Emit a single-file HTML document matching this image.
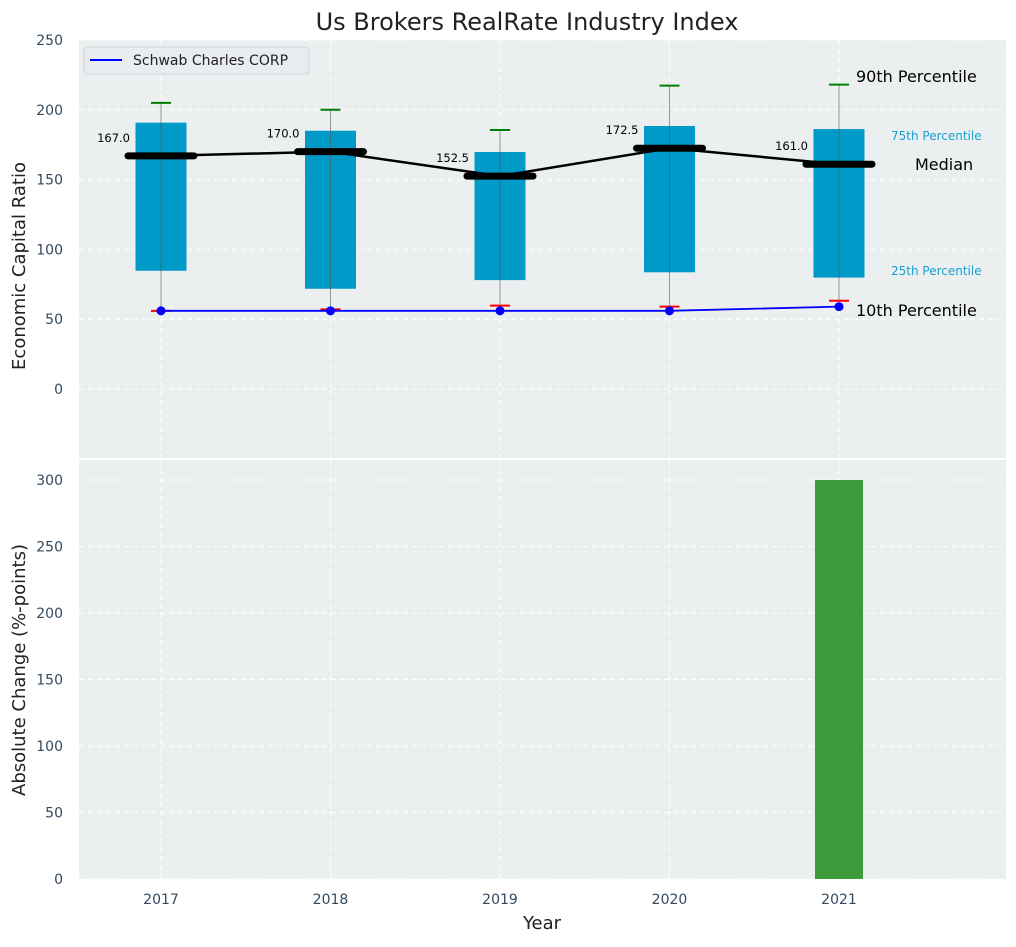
<!DOCTYPE html>
<html><head><meta charset="utf-8"><style>
body{margin:0;background:#fff;font-family:"Liberation Sans","DejaVu Sans",sans-serif}
svg text{font-family:"DejaVu Sans","Liberation Sans",sans-serif}
</style></head><body>
<svg id="c" width="1016" height="942" xmlns="http://www.w3.org/2000/svg"></svg>
<script>
const years=[2017,2018,2019,2020,2021];
const q25=[84.7,71.8,78,83.6,79.8];
const q75=[190.8,185,169.8,188.4,186.2];
const p10=[56,57,59.7,59,63.2];
const p90=[205,200,185.5,217.3,218];
const medians=[167,170,152.5,172.5,161];
const company=[56,56,56,56,59];
const changes=[0,0,0,0,300];
const yTicksTop=[0,50,100,150,200,250];
const yTicksBot=[0,50,100,150,200,250,300];

const NS="http://www.w3.org/2000/svg";
const svg=document.getElementById('c');
function el(t,a,p){const e=document.createElementNS(NS,t);for(const k in a)e.setAttribute(k,a[k]);(p||svg).appendChild(e);return e;}
const L=79,R=1006;
const x=v=>161+(v-2017)*169.5;
const yT=v=>389-(v)*1.396;
const yB=v=>879-v*1.33;
let e=el('rect',{x:L,y:40,width:R-L,height:418,fill:'#ebeff0'});

e=el('rect',{x:L,y:460,width:R-L,height:419,fill:'#ebeff0'});

years.forEach(v=>{
 el('line',{x1:x(v),x2:x(v),y1:40,y2:458,stroke:'#fff','stroke-dasharray':'5,4','stroke-width':1});
 el('line',{x1:x(v),x2:x(v),y1:460,y2:879,stroke:'#fff','stroke-dasharray':'5,4','stroke-width':1});
 e=el('text',{x:x(v),y:904,'text-anchor':'middle','font-size':14,fill:'#34495e'});e.textContent=v;
 
});
yTicksTop.forEach(v=>{
 el('line',{x1:L,x2:R,y1:yT(v),y2:yT(v),stroke:'#fff','stroke-dasharray':'5,4'});
 e=el('text',{x:63,y:yT(v)+5,'text-anchor':'end','font-size':14,fill:'#34495e'});e.textContent=v;
 
});
yTicksBot.forEach(v=>{
 el('line',{x1:L,x2:R,y1:yB(v),y2:yB(v),stroke:'#fff','stroke-dasharray':'5,4'});
 e=el('text',{x:63,y:yB(v)+5,'text-anchor':'end','font-size':14,fill:'#34495e'});e.textContent=v;
 
});
years.forEach((v,i)=>{
 e=el('rect',{x:x(v)-25.5,y:yT(q75[i]),width:51,height:yT(q25[i])-yT(q75[i]),fill:'#009ac9'});
 
 e=el('line',{x1:x(v),x2:x(v),y1:yT(p90[i]),y2:yT(p10[i]),stroke:'#555','stroke-opacity':0.6,'stroke-width':1});
 
 e=el('line',{x1:x(v)-10,x2:x(v)+10,y1:yT(p90[i]),y2:yT(p90[i]),stroke:'green','stroke-width':2});
 
 e=el('line',{x1:x(v)-10,x2:x(v)+10,y1:yT(p10[i]),y2:yT(p10[i]),stroke:'red','stroke-width':2});
 
});
e=el('polyline',{points:years.map((v,i)=>x(v)+','+yT(medians[i])).join(' '),fill:'none',stroke:'#000','stroke-width':2.5});

years.forEach((v,i)=>{
 e=el('line',{x1:x(v)-33,x2:x(v)+33,y1:yT(medians[i]),y2:yT(medians[i]),stroke:'#000','stroke-width':7,'stroke-linecap':'round'});
 
 e=el('text',{x:x(v)-31,y:yT(medians[i])-14,'text-anchor':'end','font-size':11.5,fill:'#000'});e.textContent=medians[i].toFixed(1);
 
});
e=el('polyline',{points:years.map((v,i)=>x(v)+','+yT(company[i])).join(' '),fill:'none',stroke:'blue','stroke-width':1.8});

years.forEach((v,i)=>{e=el('circle',{cx:x(v),cy:yT(company[i]),r:4.5,fill:'blue'});
 });
function txt(s,a,n){const t=el('text',a);t.textContent=s;return t;}
txt('90th Percentile',{x:856,y:82,'font-size':16,fill:'#000'},'p90-annotation');
txt('75th Percentile',{x:891,y:140,'font-size':12,fill:'#1a9fd0'},'p75-annotation');
txt('Median',{x:915,y:170,'font-size':16,fill:'#000'},'median-annotation');
txt('25th Percentile',{x:891,y:275,'font-size':12,fill:'#1a9fd0'},'p25-annotation');
txt('10th Percentile',{x:856,y:316,'font-size':16,fill:'#000'},'p10-annotation');
e=el('rect',{x:84,y:47,width:225,height:27,rx:3,fill:'#eaedf0',stroke:'#d0d4d8'});

el('line',{x1:90,x2:122,y1:60,y2:60,stroke:'blue','stroke-width':2});
txt('Schwab Charles CORP',{x:133,y:65,'font-size':14,fill:'#222'},'legend-entry');
years.forEach((v,i)=>{ if(changes[i]>0){
 e=el('rect',{x:x(v)-24,y:yB(changes[i]),width:48,height:yB(0)-yB(changes[i]),fill:'#3c9c3c'});
 }});
txt('Us Brokers RealRate Industry Index',{x:527,y:30,'text-anchor':'middle','font-size':24,fill:'#222'},'chart-title');
txt('Year',{x:542,y:929,'text-anchor':'middle','font-size':18,fill:'#222'},'x-axis-title');
txt('Economic Capital Ratio',{x:0,y:0,'text-anchor':'middle','font-size':18,fill:'#222',transform:'translate(25,266) rotate(-90)'},'y-axis-title-top');
txt('Absolute Change (%-points)',{x:0,y:0,'text-anchor':'middle','font-size':18,fill:'#222',transform:'translate(25,670) rotate(-90)'},'y-axis-title-bottom');
</script>
</body></html>
